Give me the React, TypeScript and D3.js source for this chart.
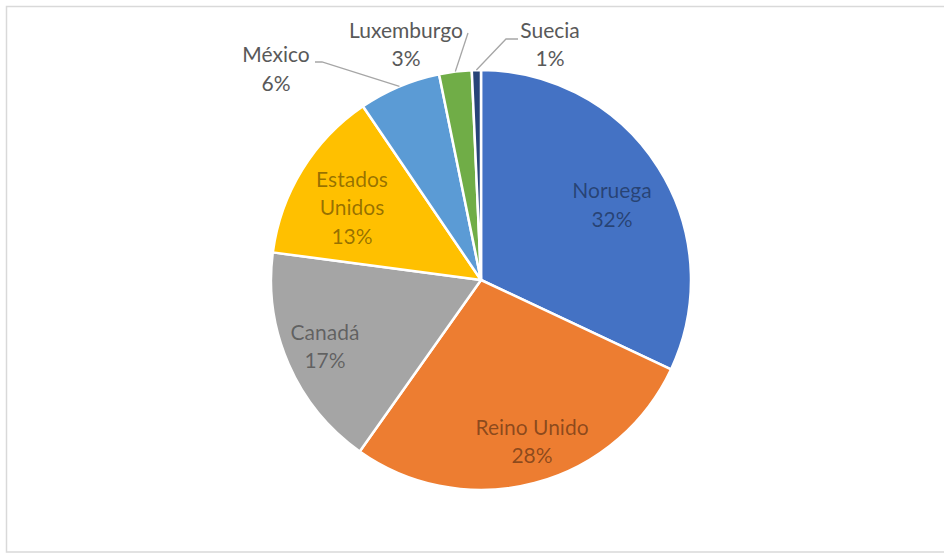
import React from "react";
import * as d3 from "d3";

// ---- data ----
const categories = ["Noruega", "Reino Unido", "Canadá", "Estados Unidos", "México", "Luxemburgo", "Suecia"];
const shares = [32.0, 27.8, 17.3, 13.4, 6.3, 2.5, 0.7];
const percentLabels = ["32%", "28%", "17%", "13%", "6%", "3%", "1%"];
const labelLines = [["Noruega"], ["Reino Unido"], ["Canadá"], ["Estados", "Unidos"], ["México"], ["Luxemburgo"], ["Suecia"]];
const colors = ["#4472C4", "#ED7D31", "#A5A5A5", "#FFC000", "#5B9BD5", "#70AD47", "#264478"];

// ---- layout (not data) ----
const W = 944, H = 553;
const CX = 481, CY = 280, R = 210;
const FONT = "Lato, 'Open Sans', sans-serif";
const FS = 21;
const LH = 28.5;
// label block centres relative to pie centre
const labelOffsets: [number, number][] = [
  [131, -75], [51, 161.5], [-156, 66.5], [-129, -72.5], [-205, -211], [-75, -235.5], [69, -235.5],
];
const inside = [true, true, true, true, false, false, false];
// leader line waypoints relative to pie centre (after the arc edge point)
const leaders: Record<number, [number, number][]> = {
  4: [[-159, -218], [-166, -218]],
  5: [[-13, -247]],
  6: [[25, -241], [37, -241]],
};

export default function App() {
  const pie = d3.pie<number>().sort(null).value((d) => d);
  const arcs = pie(shares);
  const arc = d3.arc<d3.PieArcDatum<number>>().innerRadius(0).outerRadius(R);
  const edgeArc = d3.arc<d3.PieArcDatum<number>>().innerRadius(R).outerRadius(R);

  return (
    <svg width={W} height={H} style={{ position: "absolute", left: 0, top: 0, background: "#fff" }}>
      <rect x={6.5} y={6.5} width={W} height={545.5} fill="#fff" stroke="#d9d9d9" strokeWidth={1.5} />
      <g transform={`translate(${CX},${CY})`}>
        {arcs.map((a, i) => (
          <path key={i} d={arc(a) || ""} fill={colors[i]} stroke="#fff" strokeWidth={2.5} strokeLinejoin="round" />
        ))}
        {arcs.map((a, i) => {
          const pts = leaders[i];
          if (!pts) return null;
          const start = edgeArc.centroid(a);
          const line = d3.line()([start as [number, number], ...pts]);
          return <path key={"l" + i} d={line || ""} fill="none" stroke="#a6a6a6" strokeWidth={1.3} />;
        })}
        {categories.map((c, i) => {
          const lines = [...labelLines[i], percentLabels[i]];
          const [ox, oy] = labelOffsets[i];
          const n = lines.length;
          const fill = inside[i] ? "rgba(0,0,0,0.42)" : "#595959";
          return (
            <text key={"t" + i} textAnchor="middle" fontFamily={FONT} fontSize={FS} fill={fill}>
              {lines.map((s, k) => (
                <tspan key={k} x={ox} y={oy + (k - (n - 1) / 2) * LH} dy="0.36em">
                  {s}
                </tspan>
              ))}
            </text>
          );
        })}
      </g>
    </svg>
  );
}
